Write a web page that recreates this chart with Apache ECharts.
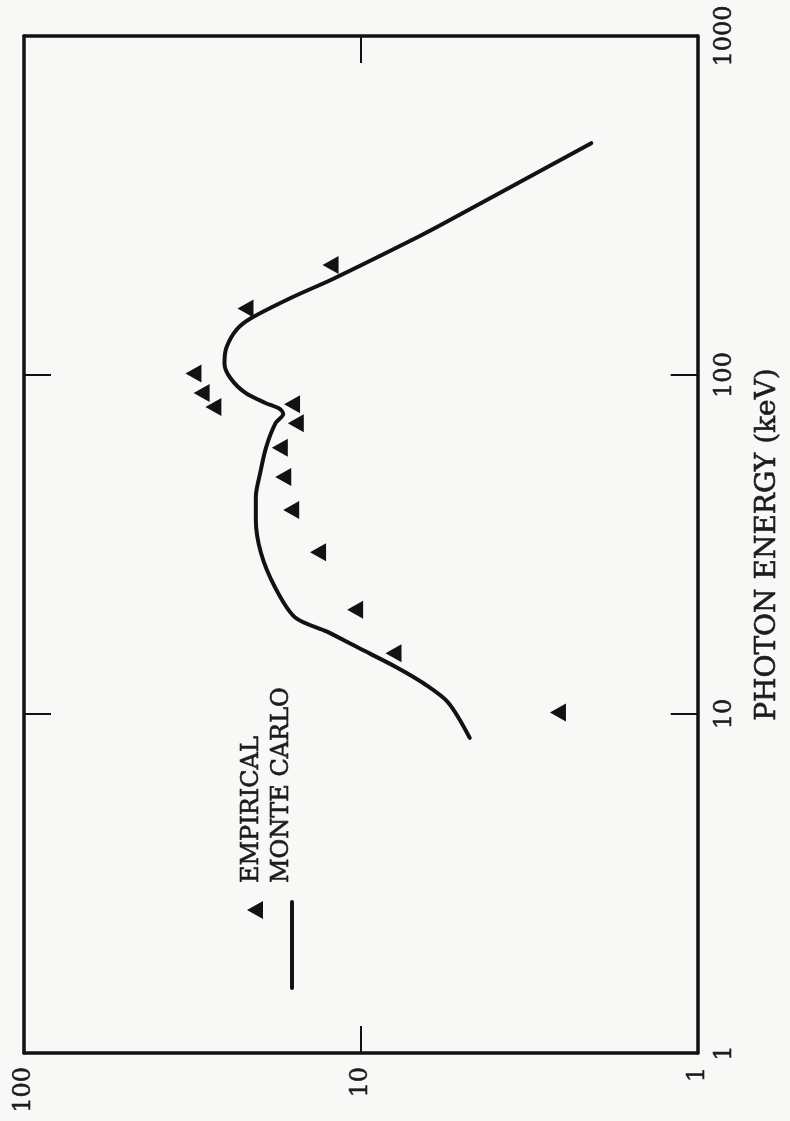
<!DOCTYPE html>
<html><head><meta charset="utf-8">
<script src="https://cdn.jsdelivr.net/npm/echarts@6/dist/echarts.min.js"></script>
<style>html,body{margin:0;padding:0;background:#f8f8f7}#c{width:790px;height:1121px}</style>
</head><body><div id="c"></div>
<script>
// Photon energy (keV) and response values
const empiricalEnergy = [10.1, 15.1, 20.3, 30, 40, 50, 61, 72, 82, 80.5, 88.5, 101, 157, 211];
const empiricalValue  = [2.6, 8.0, 10.4, 13.4, 16.1, 17.0, 17.4, 15.6, 16.0, 27.4, 29.7, 31.4, 22.0, 12.3];

const monteCarloEnergy = [8.5, 10.8, 12.3, 13.7, 15.7, 17.5, 19.3, 23.7, 29.9, 37.4, 43.7, 51.4, 61.3, 72.2, 76.7, 79.4, 82.7, 88.5, 98, 108, 120, 136, 147, 169, 193, 257, 283, 483];
const monteCarloValue  = [4.75, 5.5, 6.5, 7.8, 10.2, 12.6, 15.7, 18.0, 19.8, 20.5, 20.5, 19.9, 19.1, 17.9, 17.0, 17.4, 19.2, 22.0, 24.4, 25.4, 25.1, 23.4, 21.2, 16.1, 11.97, 6.68, 5.56, 2.07];

const valueRange = [1, 100];
const energyRange = [1, 1000];
const axisTitle = 'PHOTON ENERGY (keV)';
const legendNames = ['EMPIRICAL', 'MONTE CARLO'];

const FONT = 'DejaVu Serif';
const INK = '#121212';
const TXT = '#1c1c1c';

const chart = echarts.init(document.getElementById('c'));
const frameLine = { show: true, lineStyle: { color: INK, width: 3.5 } };
const ticks = { show: true, inside: true, length: 27, lineStyle: { color: INK, width: 2 } };
const labelStyle = { fontFamily: FONT, fontSize: 24, color: TXT, textBorderColor: TXT, textBorderWidth: 0.6,
  formatter: v => String(Math.round(v)) };

function xAx(pos, showLabel) {
  return {
    type: 'log', logBase: 10, min: valueRange[0], max: valueRange[1], interval: 1,
    inverse: true, position: pos, gridIndex: 0,
    axisLine: frameLine, axisTick: ticks, splitLine: { show: false },
    axisLabel: Object.assign({ show: showLabel, rotate: 90, margin: 14 }, labelStyle)
  };
}
function yAx(pos, showLabel) {
  const a = {
    type: 'log', logBase: 10, min: energyRange[0], max: energyRange[1], interval: 1,
    position: pos, gridIndex: 0,
    axisLine: frameLine, axisTick: ticks, splitLine: { show: false },
    axisLabel: Object.assign({ show: showLabel, rotate: 90, margin: 15 }, labelStyle)
  };
  if (showLabel) {
    a.name = axisTitle;
    a.nameLocation = 'middle';
    a.nameRotate = 90;
    a.nameGap = 56;
    a.nameTextStyle = { fontFamily: FONT, fontSize: 28, color: TXT, textBorderColor: TXT, textBorderWidth: 0.6 };
  }
  return a;
}

const legendText = { fontFamily: FONT, fontSize: 24, fill: TXT, stroke: TXT, lineWidth: 0.6, align: 'left', verticalAlign: 'middle' };

chart.setOption({
  backgroundColor: '#f8f8f7',
  animation: false,
  grid: { left: 24, right: 87, top: 36, bottom: 68, containLabel: false },
  xAxis: [xAx('bottom', true), xAx('top', false)],
  yAxis: [yAx('right', true), yAx('left', false)],
  series: [
    {
      name: legendNames[1], type: 'line', xAxisIndex: 0, yAxisIndex: 0,
      data: monteCarloEnergy.map((e, i) => [monteCarloValue[i], e]),
      showSymbol: false, symbol: 'none', smooth: 0.3,
      lineStyle: { color: INK, width: 4, cap: 'round', join: 'round' }
    },
    {
      name: legendNames[0], type: 'scatter', xAxisIndex: 0, yAxisIndex: 0,
      data: empiricalEnergy.map((e, i) => [empiricalValue[i], e]),
      symbol: 'triangle', symbolSize: [18, 16], symbolRotate: 90,
      itemStyle: { color: INK, opacity: 1 }
    }
  ],
  graphic: [
    { type: 'polygon', shape: { points: [[247, 910], [263, 901], [263, 919]] }, style: { fill: INK } },
    { type: 'line', shape: { x1: 292, y1: 902, x2: 292, y2: 988 }, style: { stroke: INK, lineWidth: 4, lineCap: 'round' } },
    { type: 'text', x: 252, y: 883, rotation: Math.PI / 2, style: Object.assign({ text: legendNames[0] }, legendText) },
    { type: 'text', x: 282, y: 883, rotation: Math.PI / 2, style: Object.assign({ text: legendNames[1] }, legendText) }
  ]
});
</script>
</body></html>
